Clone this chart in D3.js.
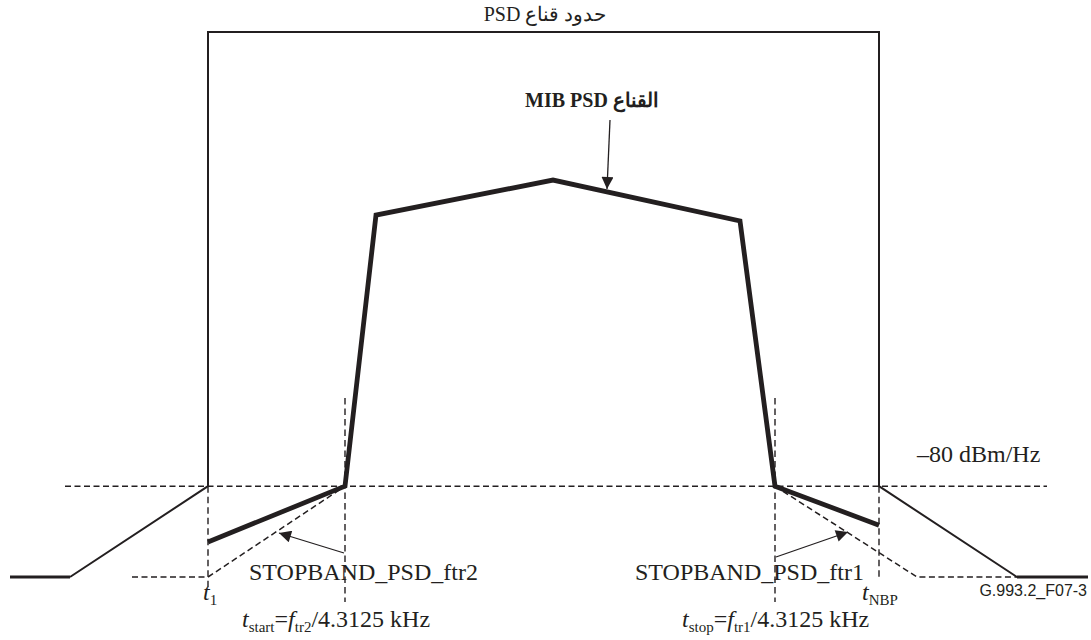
<!DOCTYPE html>
<html><head><meta charset="utf-8">
<script src="https://cdn.jsdelivr.net/npm/d3@7"></script>
<style>
html,body{margin:0;padding:0;background:#fff;}
svg{display:block;}
text{font-family:"Liberation Serif","Times New Roman",serif;fill:#231f20;}
</style></head>
<body>
<svg id="c" width="1091" height="640"></svg>
<script>
// ---- data (tone index, dBm/Hz) ----
const maskLimit = [[60,-100],[198,-80],[198,20],[869,20],[869,-80],[1007,-100]];
const leftFloor = [[0,-100],[60,-100]];
const rightFloor = [[1007,-100],[1078,-100]];
const mibPsd = [[198,-92.3],[335,-80],[366,-20.3],[543,-12.6],[730,-21.6],[765,-80],[869,-88.6]];
const refLevel = [[55,-80],[1037,-80]];
const stopbandLeft = [[122,-100],[198,-100],[335,-80]];
const stopbandRight = [[765,-80],[907,-100],[1007,-100]];
const markers = [[198,-80,-102.8],[335,-60.6,-105.5],[765,-60.6,-105.5],[869,-80,-100.7]];
const titleText = "حدود قناع PSD";
const mibLabel = "القناع MIB PSD";
const levelLabel = "\u201380 dBm/Hz";
const sbLabels = ["STOPBAND_PSD_ftr2","STOPBAND_PSD_ftr1"];
const figId = "G.993.2_F07-3";

const svg = d3.select("#c");
const x = d3.scaleLinear().domain([0,1080]).range([10,1090]);
const y = d3.scaleLinear().domain([-100,20]).range([577,32]);
const line = d3.line().x(d=>x(d[0])).y(d=>y(d[1]));
const ink = "#231f20";

// arrowhead marker
const defs = svg.append("defs");
defs.append("marker").attr("id","ah").attr("viewBox","0 0 10 10")
  .attr("refX",10).attr("refY",5).attr("markerWidth",14).attr("markerHeight",12)
  .attr("markerUnits","userSpaceOnUse").attr("orient","auto")
  .append("path").attr("d","M0,0L10,5L0,10Z").attr("fill",ink);

const dash = "6,3.5";
// dashed lines
[refLevel, stopbandLeft, stopbandRight].forEach(p=>{
  svg.append("path").attr("d",line(p)).attr("fill","none").attr("stroke",ink)
    .attr("stroke-width",1.5).attr("stroke-dasharray",dash);
});
markers.forEach(m=>{
  svg.append("line").attr("x1",x(m[0])).attr("x2",x(m[0]))
    .attr("y1",y(m[1])).attr("y2",y(m[2]))
    .attr("stroke",ink).attr("stroke-width",1.4).attr("stroke-dasharray","6.5,4");
});

// mask
svg.append("path").attr("d",line(maskLimit)).attr("fill","none").attr("stroke",ink)
  .attr("stroke-width",2).attr("stroke-linejoin","miter");
[leftFloor,rightFloor].forEach(p=>{
  svg.append("path").attr("d",line(p)).attr("fill","none").attr("stroke",ink).attr("stroke-width",3.2);
});
// MIB PSD
svg.append("path").attr("d",line(mibPsd)).attr("fill","none").attr("stroke",ink)
  .attr("stroke-width",4.8).attr("stroke-linejoin","miter");

// arrows
function arrow(x1,y1,x2,y2){
  svg.append("line").attr("x1",x1).attr("y1",y1).attr("x2",x2).attr("y2",y2)
    .attr("stroke",ink).attr("stroke-width",1.3).attr("marker-end","url(#ah)");
}
arrow(610,120,607,189);
arrow(x(335)-1,553,279,533);
arrow(x(765)+1,557,848,532);

// texts
svg.append("text").attr("x",545).attr("y",21).attr("text-anchor","middle")
  .attr("direction","rtl").style("font-size","20px").text(titleText);
svg.append("text").attr("x",592).attr("y",107).attr("text-anchor","middle")
  .attr("direction","rtl").style("font-size","20px").style("font-weight","bold").text(mibLabel);
svg.append("text").attr("x",917).attr("y",462).style("font-size","24px").text(levelLabel);
svg.append("text").attr("x",249).attr("y",580).style("font-size","24px").text(sbLabels[0]);
svg.append("text").attr("x",635).attr("y",580).style("font-size","24px").text(sbLabels[1]);
svg.append("text").attr("x",1087).attr("y",596).attr("text-anchor","end")
  .style("font-family","'Liberation Sans',Arial,sans-serif").style("font-size","16px").text(figId);

function subText(px,py,parts){
  const t = svg.append("text").attr("x",px).attr("y",py).style("font-size","24px");
  let shifted = false;
  parts.forEach(p=>{
    const s = t.append("tspan").text(p.t);
    if(p.i) s.style("font-style","italic");
    if(p.sub){ s.style("font-size","15px"); if(!shifted){ s.attr("dy",5); shifted=true; } }
    else if(shifted){ s.attr("dy",-5); shifted=false; }
  });
}
subText(203,600,[{t:"t",i:1},{t:"1",sub:1}]);
subText(862,600,[{t:"t",i:1},{t:"NBP",sub:1}]);
subText(242,627,[{t:"t",i:1},{t:"start",sub:1},{t:"="},{t:"f",i:1},{t:"tr2",sub:1},{t:"/4.3125 kHz"}]);
subText(682,627,[{t:"t",i:1},{t:"stop",sub:1},{t:"="},{t:"f",i:1},{t:"tr1",sub:1},{t:"/4.3125 kHz"}]);
</script>
</body></html>
